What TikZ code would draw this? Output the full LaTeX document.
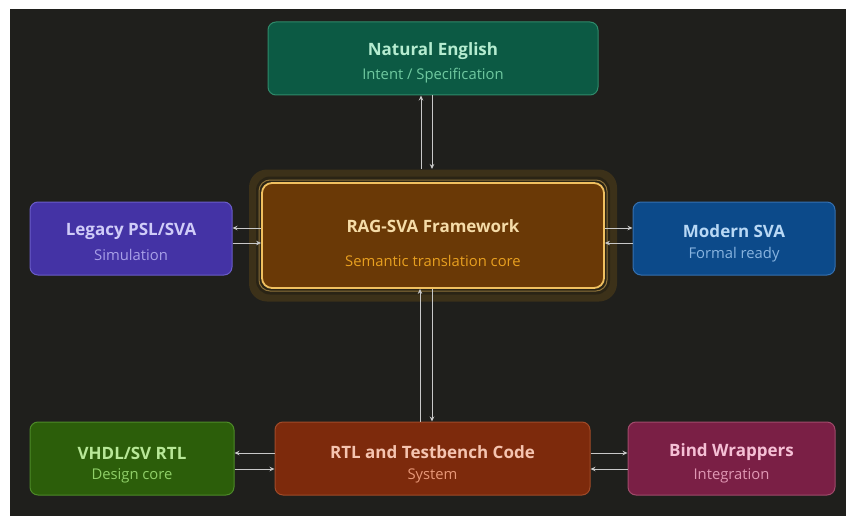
\documentclass[tikz,border=0pt]{standalone}
\usepackage{fontspec}
\setmainfont{Open Sans}
\usetikzlibrary{arrows.meta}
\definecolor{bg}{HTML}{1F1F1C}
\definecolor{arrc}{HTML}{C8C8C8}
\definecolor{neF}{HTML}{0C5A44}\definecolor{neD}{HTML}{2F8A6A}\definecolor{neT}{HTML}{B5ECD0}\definecolor{neS}{HTML}{6FC9A0}
\definecolor{lgF}{HTML}{4433A5}\definecolor{lgD}{HTML}{6A5CC8}\definecolor{lgT}{HTML}{D0CCF8}\definecolor{lgS}{HTML}{A8A0E8}
\definecolor{mdF}{HTML}{0C4A8A}\definecolor{mdD}{HTML}{3570B0}\definecolor{mdT}{HTML}{B8D8F5}\definecolor{mdS}{HTML}{88B4E0}
\definecolor{vhF}{HTML}{2C5E0A}\definecolor{vhD}{HTML}{4D8A28}\definecolor{vhT}{HTML}{B8E898}\definecolor{vhS}{HTML}{90D068}
\definecolor{rtF}{HTML}{7D2A0C}\definecolor{rtD}{HTML}{A04A28}\definecolor{rtT}{HTML}{F5C4B0}\definecolor{rtS}{HTML}{E89878}
\definecolor{bwF}{HTML}{7A1F45}\definecolor{bwD}{HTML}{A04A6A}\definecolor{bwT}{HTML}{F5C0D5}\definecolor{bwS}{HTML}{E098B4}
\definecolor{rgF}{HTML}{6A3906}\definecolor{rgD}{HTML}{F0C060}\definecolor{rgT}{HTML}{F5DCA8}\definecolor{rgS}{HTML}{E8A020}
\definecolor{glowA}{HTML}{3C3119}\definecolor{glowB}{HTML}{2A2415}
\tikzset{
  box/.style={rectangle, rounded corners=8pt, line width=1pt, inner sep=0pt},
  ttl/.style={font=\fontsize{17}{20}\selectfont\bfseries, inner sep=0pt, anchor=center},
  sub/.style={font=\fontsize{14.8}{17}\selectfont, inner sep=0pt, anchor=center},
  arr/.style={draw=arrc, line width=0.8pt, -{Stealth[length=5pt,width=4.5pt]}}
}
\begin{document}
\begin{tikzpicture}[x=1pt,y=-1pt]
\useasboundingbox (0,0) rectangle (846,516);
\fill[white] (0,0) rectangle (846,516);
\fill[bg] (10,9) rectangle (846,516);

% glow around core
\node[box, rounded corners=18pt, fill=glowA, minimum width=368pt, minimum height=132pt] (glow) at (433,235.5) {};
\node[box, rounded corners=14pt, fill=glowB, minimum width=354pt, minimum height=118pt] (ring) at (433,235.5) {};
\node[box, rounded corners=11pt, draw=rgD!50!glowB, line width=1pt, minimum width=348pt, minimum height=111pt] (rgo) at (433,235.5) {};
\node[box, rounded corners=10pt, fill=rgF, draw=rgD, line width=1.8pt, minimum width=342pt, minimum height=105pt] (rag) at (433,235.5) {};
\node[ttl, text=rgT] (ragT) at (433,226) {RAG-SVA Framework};
\node[sub, text=rgS] (ragS) at (433,261) {Semantic translation core};

% boxes
\node[box, fill=neF, draw=neD, minimum width=330pt, minimum height=73pt] (ne) at (433,58.5) {};
\node[ttl, text=neT] (neTt) at (433,51) {Natural English};
\node[sub, text=neS] (neSt) at (433,75.5) {Intent / Specification};

\node[box, fill=lgF, draw=lgD, minimum width=202pt, minimum height=73pt] (lg) at (131,238.5) {};
\node[ttl, text=lgT] (lgTt) at (131,231) {Legacy PSL/SVA};
\node[sub, text=lgS] (lgSt) at (131,254.5) {Simulation};

\node[box, fill=mdF, draw=mdD, minimum width=202pt, minimum height=73pt] (md) at (734,238.5) {};
\node[ttl, text=mdT] (mdTt) at (734,231) {Modern SVA};
\node[sub, text=mdS] (mdSt) at (734,254.5) {Formal ready};

\node[box, fill=vhF, draw=vhD, minimum width=204pt, minimum height=73pt] (vh) at (132,458.5) {};
\node[ttl, text=vhT] (vhTt) at (132,453) {VHDL/SV RTL};
\node[sub, text=vhS] (vhSt) at (132,476) {Design core};

\node[box, fill=rtF, draw=rtD, minimum width=315pt, minimum height=73pt] (rt) at (432.5,458.5) {};
\node[ttl, text=rtT] (rtTt) at (432.5,452) {RTL and Testbench Code};
\node[sub, text=rtS] (rtSt) at (432.5,475.5) {System};

\node[box, fill=bwF, draw=bwD, minimum width=207pt, minimum height=73pt] (bw) at (731.5,458.5) {};
\node[ttl, text=bwT] (bwTt) at (731.5,452) {Bind Wrappers};
\node[sub, text=bwS] (bwSt) at (731.5,475.5) {Integration};

% connectors: top
\draw[arr] ([xshift=-12pt]glow.north) -- ([xshift=-12pt]glow.north |- ne.south);
\draw[arr] ([xshift=-1pt]glow.north |- ne.south) -- ([xshift=-1pt]glow.north);
% bottom
\draw[arr] ([xshift=-12.5pt]rt.north) -- ([xshift=-12.5pt]rt.north |- rag.south);
\draw[arr] ([xshift=-0.5pt]rt.north |- rag.south) -- ([xshift=-0.5pt]rt.north);
% left
\draw[arr] ([yshift=7.5pt]rag.west) -- ([yshift=7.5pt]rag.west -| lg.east);
\draw[arr] ([yshift=-7.5pt]rag.west -| lg.east) -- ([yshift=-7.5pt]rag.west);
% right
\draw[arr] ([yshift=7.5pt]rag.east) -- ([yshift=7.5pt]rag.east -| md.west);
\draw[arr] ([yshift=-7.5pt]rag.east -| md.west) -- ([yshift=-7.5pt]rag.east);
% bottom row
\draw[arr] ([yshift=5.5pt]rt.west) -- ([yshift=5.5pt]rt.west -| vh.east);
\draw[arr] ([yshift=-10.5pt]rt.west -| vh.east) -- ([yshift=-10.5pt]rt.west);
\draw[arr] ([yshift=5.5pt]rt.east) -- ([yshift=5.5pt]rt.east -| bw.west);
\draw[arr] ([yshift=-10.5pt]rt.east -| bw.west) -- ([yshift=-10.5pt]rt.east);
\end{tikzpicture}
\end{document}
